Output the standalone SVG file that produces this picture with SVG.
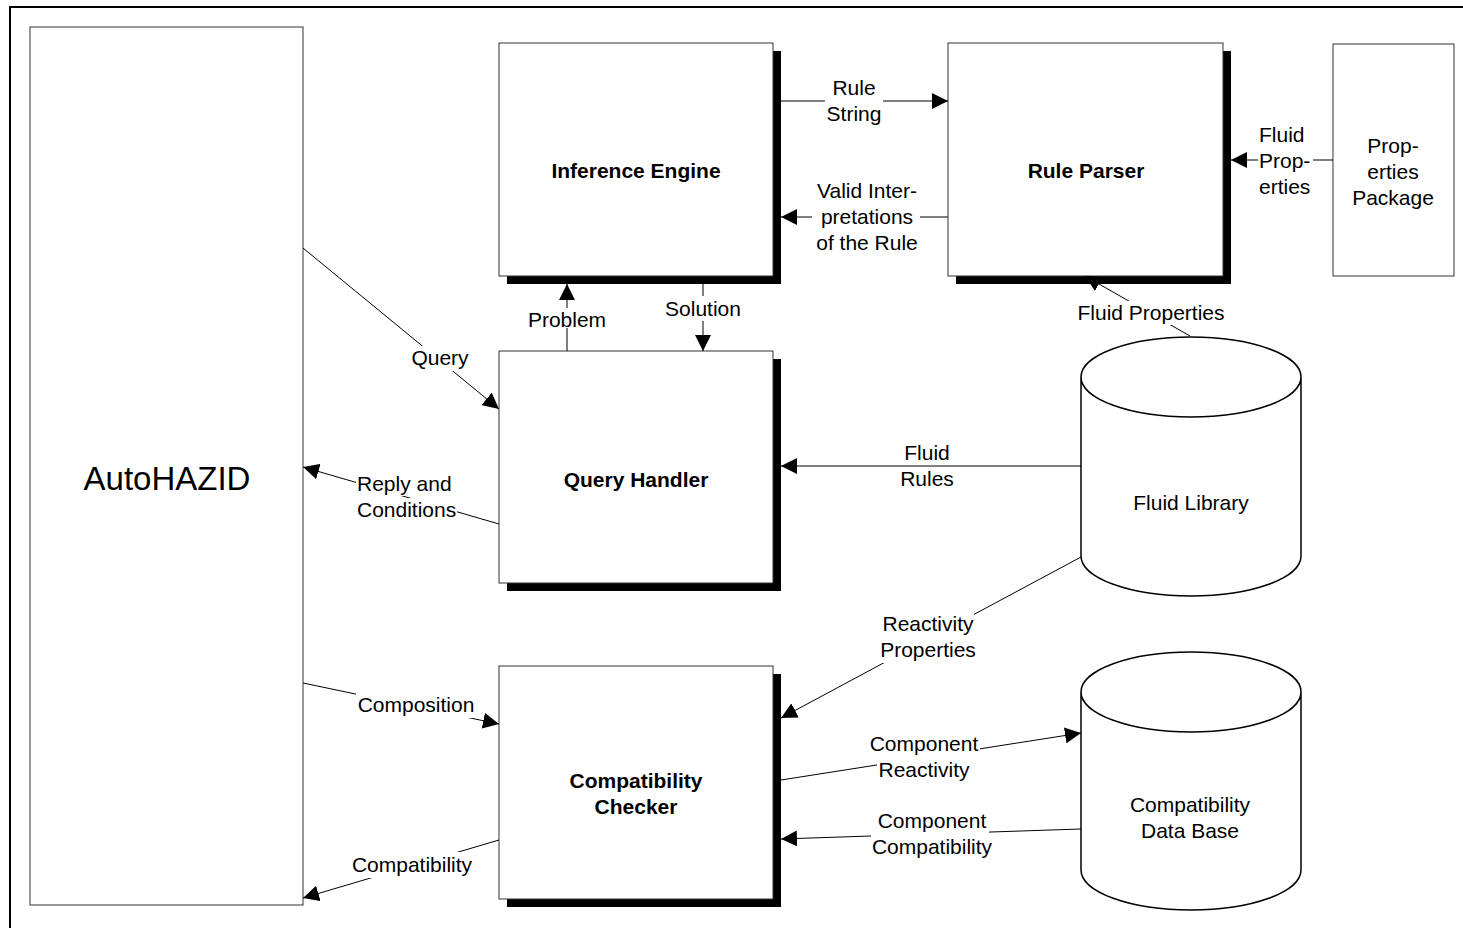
<svg xmlns="http://www.w3.org/2000/svg" width="1463" height="928" viewBox="0 0 1463 928">
<defs>
<style>
.box{fill:#fff;stroke:#333;stroke-width:1}
.shadow{fill:#000}
.cyl{fill:#fff;stroke:#000;stroke-width:1.5}
.conn{fill:none;stroke:#000;stroke-width:1}
.bg{fill:#fff}
text{font-family:"Liberation Sans",Arial,sans-serif;font-size:21px;fill:#000}
.b{font-weight:bold}
.c{text-anchor:middle}
</style>
<marker id="arr" viewBox="0 0 16 16" refX="16" refY="8" markerWidth="16" markerHeight="16" markerUnits="userSpaceOnUse" orient="auto"><path d="M0,0 L16,8 L0,16 z" fill="#000"/></marker>
</defs>
<rect width="1463" height="928" fill="#fff"/>
<path d="M10,940 V7 H1470" fill="none" stroke="#000" stroke-width="2"/>

<g id="autohazid">
<rect class="box" x="30" y="27" width="273" height="878"/>
<text class="c" x="167" y="490" style="font-size:33px">AutoHAZID</text>
</g>
<g id="inference-engine">
<rect class="shadow" x="507" y="51" width="274" height="233"/>
<rect class="box" x="499" y="43" width="274" height="233"/>
<text class="c b" x="636" y="178">Inference Engine</text>
</g>
<g id="rule-parser">
<rect class="shadow" x="956" y="51" width="275" height="233"/>
<rect class="box" x="948" y="43" width="275" height="233"/>
<text class="c b" x="1086" y="178">Rule Parser</text>
</g>
<g id="properties-package">
<rect class="box" x="1333" y="44" width="121" height="232"/>
<text class="c" x="1393" y="153">Prop-</text>
<text class="c" x="1393" y="179">erties</text>
<text class="c" x="1393" y="205">Package</text>
</g>
<g id="query-handler">
<rect class="shadow" x="507" y="359" width="274" height="232"/>
<rect class="box" x="499" y="351" width="274" height="232"/>
<text class="c b" x="636" y="487">Query Handler</text>
</g>
<g id="compatibility-checker">
<rect class="shadow" x="507" y="674" width="274" height="233"/>
<rect class="box" x="499" y="666" width="274" height="233"/>
<text class="c b" x="636" y="788">Compatibility</text>
<text class="c b" x="636" y="814">Checker</text>
</g>
<g id="fluid-library">
<path class="cyl" d="M1081,377 A110,40 0 0,1 1301,377 V556 A110,40 0 0,1 1081,556 Z M1081,377 A110,40 0 0,0 1301,377"/>
<text class="c" x="1191" y="510">Fluid Library</text>
</g>
<g id="compatibility-database">
<path class="cyl" d="M1081,692 A110,40 0 0,1 1301,692 V870 A110,40 0 0,1 1081,870 Z M1081,692 A110,40 0 0,0 1301,692"/>
<text class="c" x="1190" y="812">Compatibility</text>
<text class="c" x="1190" y="838">Data Base</text>
</g>

<g id="connectors">
<path class="conn" d="M781,101 H948" marker-end="url(#arr)"/>
<path class="conn" d="M948,217 H781" marker-end="url(#arr)"/>
<path class="conn" d="M1333,160 H1231" marker-end="url(#arr)"/>
<path class="conn" d="M1190,336 L1085,276" marker-end="url(#arr)"/>
<path class="conn" d="M567,351 V284" marker-end="url(#arr)"/>
<path class="conn" d="M703,284 V351" marker-end="url(#arr)"/>
<path class="conn" d="M303,248 L499,409" marker-end="url(#arr)"/>
<path class="conn" d="M499,524 L303,467" marker-end="url(#arr)"/>
<path class="conn" d="M1081,466 H781" marker-end="url(#arr)"/>
<path class="conn" d="M1081,557 L781,718" marker-end="url(#arr)"/>
<path class="conn" d="M781,780 L1081,733" marker-end="url(#arr)"/>
<path class="conn" d="M1081,829 L781,839" marker-end="url(#arr)"/>
<path class="conn" d="M303,683 L499,724" marker-end="url(#arr)"/>
<path class="conn" d="M499,840 L303,898" marker-end="url(#arr)"/>
</g>

<g id="labels">
<rect class="bg" x="825" y="79" width="58" height="46"/>
<text class="c" x="854" y="94.5">Rule</text>
<text class="c" x="854" y="120.5">String</text>

<rect class="bg" x="812" y="178" width="108" height="78"/>
<text class="c" x="867" y="197.5">Valid Inter-</text>
<text class="c" x="867" y="223.5">pretations</text>
<text class="c" x="867" y="249.5">of the Rule</text>

<rect class="bg" x="1258" y="122" width="55" height="78"/>
<text x="1259" y="141.5">Fluid</text>
<text x="1259" y="167.5">Prop-</text>
<text x="1259" y="193.5">erties</text>

<rect class="bg" x="1077" y="301" width="150" height="24"/>
<text class="c" x="1151" y="319.5">Fluid Properties</text>

<rect class="bg" x="527" y="308" width="80" height="20"/>
<text class="c" x="567" y="327">Problem</text>

<rect class="bg" x="664" y="296" width="78" height="25"/>
<text class="c" x="703" y="316">Solution</text>

<rect class="bg" x="411" y="346" width="58" height="25"/>
<text class="c" x="440" y="364.5">Query</text>

<rect class="bg" x="356" y="471" width="97" height="25"/>
<rect class="bg" x="356" y="498" width="101" height="22"/>
<text x="357" y="490.5">Reply and</text>
<text x="357" y="516.5">Conditions</text>

<text class="c" x="927" y="459.5">Fluid</text>
<text class="c" x="927" y="485.5">Rules</text>

<rect class="bg" x="881" y="611" width="93" height="26"/>
<rect class="bg" x="881" y="637" width="98" height="26"/>
<text class="c" x="928" y="630.5">Reactivity</text>
<text class="c" x="928" y="656.5">Properties</text>

<rect class="bg" x="867" y="731" width="113" height="26"/>
<rect class="bg" x="877" y="757" width="92" height="26"/>
<text class="c" x="924" y="750.5">Component</text>
<text class="c" x="924" y="776.5">Reactivity</text>

<rect class="bg" x="876" y="808" width="113" height="26"/>
<rect class="bg" x="871" y="834" width="123" height="26"/>
<text class="c" x="932" y="827.5">Component</text>
<text class="c" x="932" y="853.5">Compatibility</text>

<rect class="bg" x="356" y="692" width="119" height="26"/>
<text class="c" x="416" y="711.5">Composition</text>

<rect class="bg" x="351" y="852" width="123" height="26"/>
<text class="c" x="412" y="871.5">Compatibility</text>
</g>
</svg>
